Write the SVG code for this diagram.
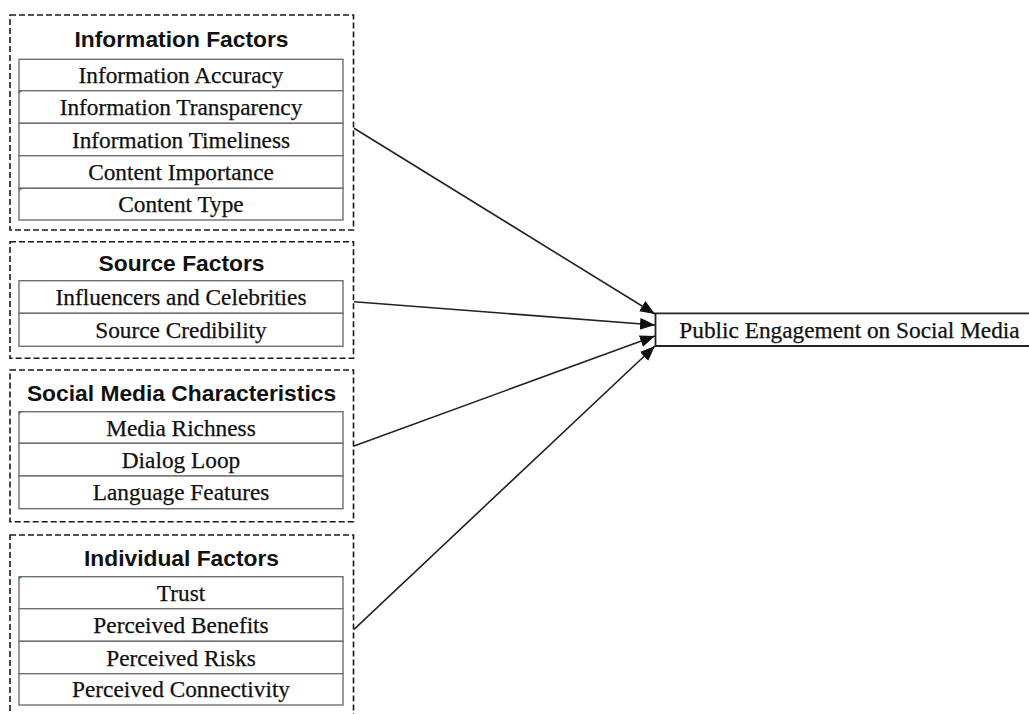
<svg xmlns="http://www.w3.org/2000/svg" width="1029" height="714" viewBox="0 0 1029 714">
<style>
.outer{fill:none;stroke:#1a1a1a;stroke-width:1.6;stroke-dasharray:6 3}
.cell{fill:#fff;stroke:#707070;stroke-width:1.4}
.title{font-family:"Liberation Sans",Arial,sans-serif;font-weight:bold;font-size:22.8px;fill:#111;text-anchor:middle}
.item{font-family:"Liberation Serif","Times New Roman",serif;font-size:23.3px;fill:#111;stroke:#111;stroke-width:0.25;text-anchor:middle}
.conn{fill:none;stroke:#222;stroke-width:1.6}
.mark{fill:none;stroke:#1a9a1a;stroke-width:1.3}
</style>
<defs>
<marker id="ah" markerUnits="userSpaceOnUse" markerWidth="16" markerHeight="14" refX="15" refY="6" orient="auto">
<path d="M0,0 L15,6 L0,12 Z" fill="#111"/>
</marker>
</defs>
<rect width="1029" height="714" fill="#fff"/>

<g id="information-factors">
<rect class="outer" x="10" y="15" width="343.5" height="215"/>
<text class="title" x="181.5" y="47">Information Factors</text>
<rect class="cell" x="19" y="59.3" width="324" height="31.4"/>
<rect class="cell" x="19" y="90.7" width="324" height="32.6"/>
<rect class="cell" x="19" y="123.3" width="324" height="32.4"/>
<rect class="cell" x="19" y="155.7" width="324" height="32.6"/>
<rect class="cell" x="19" y="188.3" width="324" height="31.7"/>
<text class="item" x="181" y="83">Information Accuracy</text>
<text class="item" x="181" y="115">Information Transparency</text>
<text class="item" x="181" y="147.5">Information Timeliness</text>
<text class="item" x="181" y="180">Content Importance</text>
<text class="item" x="181" y="212">Content Type</text>
<path class="mark" d="M19.5,93.5 V91.2 H22"/>
<path class="mark" d="M19.5,191 V188.8 H22"/>
</g>

<g id="source-factors">
<rect class="outer" x="10" y="241.7" width="343.5" height="116.6"/>
<text class="title" x="181.5" y="270.7">Source Factors</text>
<rect class="cell" x="19" y="280.7" width="324" height="32.6"/>
<rect class="cell" x="19" y="313.3" width="324" height="33"/>
<text class="item" x="181" y="305">Influencers and Celebrities</text>
<text class="item" x="181" y="337.8">Source Credibility</text>
</g>

<g id="social-media-characteristics">
<rect class="outer" x="10" y="370" width="343.5" height="151.7"/>
<text class="title" x="181.5" y="400.7">Social Media Characteristics</text>
<rect class="cell" x="19" y="411.7" width="324" height="31.6"/>
<rect class="cell" x="19" y="443.3" width="324" height="32.7"/>
<rect class="cell" x="19" y="476" width="324" height="32.7"/>
<text class="item" x="181" y="435.5">Media Richness</text>
<text class="item" x="181" y="467.6">Dialog Loop</text>
<text class="item" x="181" y="500.3">Language Features</text>
<path class="mark" d="M19.5,414.5 V412.2 H22"/>
</g>

<g id="individual-factors">
<rect class="outer" x="10" y="535" width="343.5" height="190"/>
<text class="title" x="181.5" y="565.7">Individual Factors</text>
<rect class="cell" x="19" y="576.7" width="324" height="32"/>
<rect class="cell" x="19" y="608.7" width="324" height="32.6"/>
<rect class="cell" x="19" y="641.3" width="324" height="32.4"/>
<rect class="cell" x="19" y="673.7" width="324" height="31.3"/>
<text class="item" x="181" y="600.7">Trust</text>
<text class="item" x="181" y="633">Perceived Benefits</text>
<text class="item" x="181" y="665.5">Perceived Risks</text>
<text class="item" x="181" y="697.4">Perceived Connectivity</text>
<path class="mark" d="M19.5,579.5 V577.2 H22"/>
</g>

<g id="public-engagement">
<path d="M1035,313.3 H655.5 V346 H1035" fill="#fff" stroke="#222" stroke-width="1.8"/>
<text class="item" x="849.5" y="338.3">Public Engagement on Social Media</text>
</g>

<g id="connectors">
<line class="conn" x1="354" y1="128.3" x2="655" y2="314" marker-end="url(#ah)"/>
<line class="conn" x1="354" y1="301.7" x2="655" y2="325" marker-end="url(#ah)"/>
<line class="conn" x1="354" y1="446" x2="655" y2="336" marker-end="url(#ah)"/>
<line class="conn" x1="354" y1="629.3" x2="655" y2="346" marker-end="url(#ah)"/>
</g>
</svg>
